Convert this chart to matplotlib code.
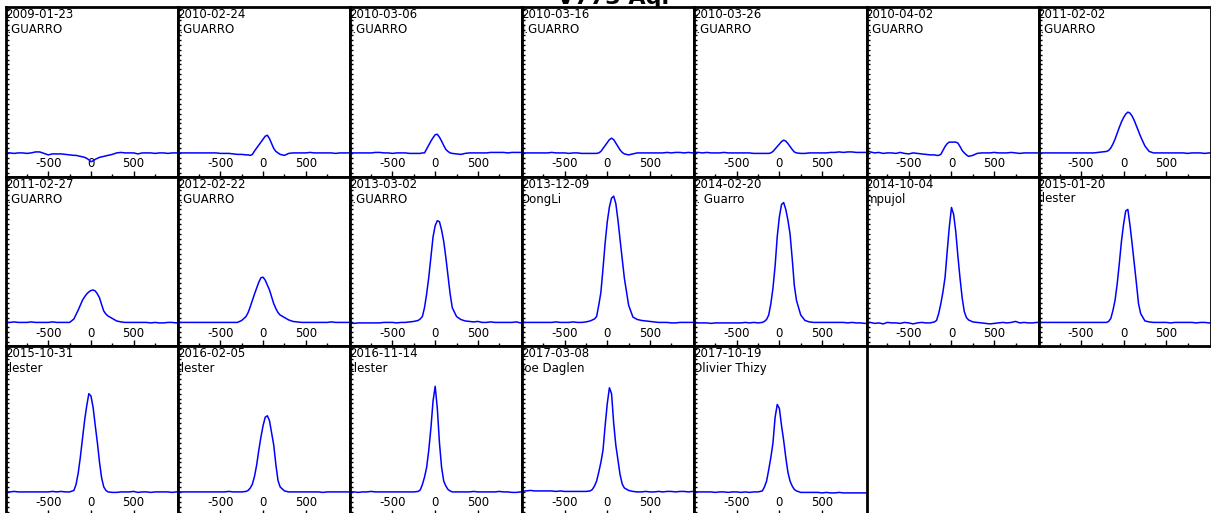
import matplotlib
matplotlib.use("Agg")
import matplotlib.pyplot as plt
from matplotlib.ticker import MultipleLocator
from matplotlib.transforms import offset_copy

title = "V773 Aql"

dates = ["2009-01-23", "2010-02-24", "2010-03-06", "2010-03-16", "2010-03-26", "2010-04-02", "2011-02-02",
         "2011-02-27", "2012-02-22", "2013-03-02", "2013-12-09", "2014-02-20", "2014-10-04", "2015-01-20",
         "2015-10-31", "2016-02-05", "2016-11-14", "2017-03-08", "2017-10-19"]

observers = ["J.GUARRO", "J.GUARRO", "J.GUARRO", "J.GUARRO", "J.GUARRO", "J.GUARRO", "J.GUARRO",
             "J.GUARRO", "J.GUARRO", "J.GUARRO", "DongLi", "J. Guarro", "mpujol", "tlester",
             "tlester", "tlester", "tlester", "Joe Daglen", "Olivier Thizy"]

# radial velocity (km/s), shared by all spectra
velocity = [-1000, -950, -900, -850, -800, -750, -700, -650, -600, -550,
            -500, -450, -400, -350, -300, -250, -200, -175, -150, -125,
            -100, -75, -50, -25, 0, 25, 50, 75, 100, 125,
            150, 175, 200, 250, 300, 350, 400, 450, 500, 550,
            600, 650, 700, 750, 800, 850, 900, 950, 1000, 1030]

# normalised flux, one list per date
flux_20090123 = [1.00, 1.00, 0.99, 1.00, 1.00, 0.99, 1.00, 1.02, 1.02, 0.99,
                 0.96, 0.98, 0.98, 0.98, 0.97, 0.96, 0.95, 0.95, 0.94, 0.93,
                 0.92, 0.91, 0.89, 0.86, 0.82, 0.84, 0.87, 0.89, 0.91, 0.92,
                 0.93, 0.94, 0.95, 0.97, 1.00, 1.01, 1.00, 1.00, 1.00, 0.98,
                 1.00, 1.00, 1.00, 0.99, 1.00, 1.00, 0.99, 1.00, 1.00, 1.00]
flux_20100224 = [1.00, 1.00, 1.00, 1.00, 1.00, 1.00, 1.00, 1.00, 1.00, 1.00,
                 0.99, 0.99, 0.99, 0.98, 0.97, 0.97, 0.96, 0.96, 0.95, 0.97,
                 1.04, 1.10, 1.16, 1.22, 1.28, 1.34, 1.36, 1.29, 1.19, 1.09,
                 1.03, 1.00, 0.97, 0.95, 0.99, 1.00, 1.00, 1.00, 1.00, 1.01,
                 1.00, 1.00, 1.00, 1.00, 1.00, 0.99, 1.00, 1.00, 1.00, 1.00]
flux_20100306 = [1.00, 1.00, 1.00, 1.00, 1.00, 1.00, 1.01, 1.01, 1.00, 1.00,
                 0.99, 1.00, 1.00, 1.00, 0.99, 0.99, 0.99, 0.99, 1.00, 1.00,
                 1.08, 1.16, 1.24, 1.31, 1.37, 1.38, 1.32, 1.24, 1.15, 1.07,
                 1.03, 1.00, 0.99, 0.98, 0.97, 0.99, 1.00, 1.00, 1.00, 1.00,
                 1.00, 1.01, 1.01, 1.01, 1.01, 1.00, 1.01, 1.01, 1.01, 1.01]
flux_20100316 = [1.00, 1.00, 1.00, 1.00, 1.00, 1.00, 1.00, 1.01, 1.00, 1.00,
                 1.00, 0.99, 1.00, 1.00, 0.99, 0.99, 0.99, 0.99, 0.99, 0.99,
                 1.00, 1.03, 1.09, 1.15, 1.21, 1.27, 1.30, 1.27, 1.20, 1.13,
                 1.06, 1.01, 0.98, 0.96, 0.98, 1.00, 1.00, 1.00, 1.00, 1.00,
                 1.00, 1.00, 1.01, 1.00, 1.01, 1.01, 1.00, 1.01, 1.00, 1.00]
flux_20100326 = [1.01, 1.01, 1.00, 1.01, 1.00, 1.00, 1.00, 1.01, 1.00, 1.00,
                 1.00, 1.00, 1.00, 1.00, 0.99, 0.99, 0.99, 0.99, 0.99, 0.99,
                 1.00, 1.03, 1.08, 1.13, 1.18, 1.23, 1.26, 1.24, 1.19, 1.13,
                 1.07, 1.02, 1.00, 0.99, 0.99, 1.00, 1.00, 1.00, 1.00, 1.00,
                 1.01, 1.01, 1.02, 1.01, 1.02, 1.02, 1.01, 1.01, 1.01, 1.01]
flux_20100402 = [1.06, 1.02, 1.00, 1.01, 0.99, 1.00, 1.00, 0.99, 1.01, 0.99,
                 0.98, 1.00, 0.99, 0.98, 0.97, 0.96, 0.96, 0.95, 0.95, 0.97,
                 1.05, 1.13, 1.19, 1.22, 1.22, 1.22, 1.22, 1.20, 1.13, 1.05,
                 1.00, 0.96, 0.93, 0.95, 0.99, 1.00, 1.00, 1.00, 1.01, 1.00,
                 1.00, 1.00, 1.01, 1.00, 0.99, 1.00, 1.00, 1.00, 1.00, 1.00]
flux_20110202 = [1.00, 1.00, 1.00, 1.00, 1.00, 1.00, 1.00, 1.00, 1.00, 1.00,
                 1.00, 1.00, 1.00, 1.00, 1.01, 1.02, 1.03, 1.05, 1.10, 1.18,
                 1.28, 1.40, 1.52, 1.63, 1.72, 1.79, 1.83, 1.81, 1.75, 1.66,
                 1.55, 1.44, 1.33, 1.14, 1.03, 1.00, 1.00, 1.00, 1.00, 1.00,
                 1.00, 1.00, 1.00, 0.99, 1.00, 1.00, 1.00, 0.99, 1.00, 1.00]
flux_20110227 = [1.00, 1.00, 1.01, 1.00, 1.00, 1.00, 1.01, 1.00, 1.00, 1.00,
                 1.00, 1.01, 1.00, 1.00, 1.00, 1.00, 1.07, 1.16, 1.25, 1.35,
                 1.45, 1.52, 1.58, 1.62, 1.65, 1.66, 1.64, 1.58, 1.50, 1.36,
                 1.23, 1.17, 1.13, 1.08, 1.03, 1.01, 1.00, 1.00, 1.00, 1.00,
                 1.00, 1.00, 0.99, 1.00, 0.99, 0.99, 1.00, 1.00, 0.99, 1.00]
flux_20120222 = [1.00, 1.00, 1.00, 1.00, 1.00, 1.00, 1.00, 1.00, 1.00, 1.00,
                 1.00, 1.00, 1.00, 1.00, 1.00, 1.04, 1.12, 1.20, 1.32, 1.45,
                 1.58, 1.70, 1.82, 1.91, 1.92, 1.86, 1.76, 1.66, 1.52, 1.38,
                 1.28, 1.20, 1.15, 1.10, 1.05, 1.02, 1.01, 1.00, 1.00, 1.00,
                 1.00, 1.00, 1.00, 1.00, 1.01, 1.00, 1.00, 1.00, 1.00, 1.00]
flux_20130302 = [0.99, 0.98, 0.99, 0.99, 0.99, 0.99, 0.99, 0.99, 1.00, 1.00,
                 1.00, 0.99, 1.00, 1.00, 1.01, 1.02, 1.04, 1.07, 1.12, 1.30,
                 1.58, 1.92, 2.33, 2.74, 2.97, 3.07, 3.05, 2.88, 2.65, 2.32,
                 1.95, 1.58, 1.30, 1.12, 1.06, 1.03, 1.02, 1.01, 1.02, 1.00,
                 1.00, 1.01, 1.00, 1.00, 1.00, 1.00, 1.00, 1.01, 0.99, 0.99]
flux_20131209 = [1.00, 1.00, 1.00, 1.00, 1.00, 1.00, 1.00, 1.00, 1.01, 1.00,
                 1.00, 1.00, 1.01, 1.00, 1.00, 1.01, 1.03, 1.05, 1.07, 1.12,
                 1.35, 1.61, 2.10, 2.62, 3.05, 3.35, 3.53, 3.57, 3.42, 3.08,
                 2.68, 2.29, 1.90, 1.35, 1.11, 1.06, 1.04, 1.03, 1.02, 1.01,
                 1.00, 1.00, 1.00, 0.99, 0.99, 1.00, 1.00, 1.00, 1.00, 1.00]
flux_20140220 = [0.99, 0.99, 0.99, 0.99, 0.98, 0.99, 0.99, 0.99, 0.99, 0.99,
                 0.99, 0.99, 1.00, 0.99, 1.00, 0.99, 1.00, 1.02, 1.06, 1.15,
                 1.38, 1.70, 2.15, 2.75, 3.15, 3.40, 3.44, 3.30, 3.08, 2.80,
                 2.30, 1.75, 1.45, 1.15, 1.04, 1.01, 1.00, 1.00, 1.00, 1.00,
                 1.00, 1.00, 1.00, 1.00, 0.99, 1.00, 0.99, 0.99, 0.98, 0.98]
flux_20141004 = [0.99, 1.00, 0.98, 0.99, 0.97, 1.00, 0.99, 0.99, 0.98, 1.00,
                 0.99, 0.97, 0.99, 1.00, 0.99, 0.99, 1.01, 1.04, 1.18, 1.38,
                 1.62, 1.92, 2.45, 2.95, 3.34, 3.20, 2.85, 2.35, 1.90, 1.50,
                 1.22, 1.10, 1.05, 1.01, 1.00, 0.99, 0.98, 0.97, 0.98, 0.99,
                 1.00, 0.99, 1.00, 1.02, 0.99, 1.00, 0.99, 0.99, 1.00, 1.00]
flux_20150120 = [1.00, 1.00, 1.00, 1.00, 1.00, 1.00, 1.00, 1.00, 1.00, 1.00,
                 1.00, 1.00, 1.00, 1.00, 1.00, 1.00, 1.00, 1.02, 1.08, 1.24,
                 1.45, 1.78, 2.20, 2.65, 3.00, 3.27, 3.30, 2.98, 2.60, 2.20,
                 1.80, 1.38, 1.18, 1.03, 1.01, 1.00, 1.00, 1.00, 1.00, 0.99,
                 1.00, 1.00, 1.00, 1.00, 1.00, 0.99, 1.00, 1.00, 0.99, 0.99]
flux_20151031 = [1.00, 1.00, 1.01, 1.00, 1.00, 1.00, 1.00, 1.00, 1.00, 1.00,
                 1.00, 1.01, 1.00, 1.01, 1.00, 1.00, 1.03, 1.15, 1.38, 1.70,
                 2.08, 2.45, 2.75, 3.00, 2.95, 2.72, 2.35, 2.00, 1.60, 1.28,
                 1.10, 1.03, 1.00, 0.99, 0.99, 1.00, 1.00, 1.00, 1.01, 0.99,
                 1.00, 1.00, 0.99, 1.00, 1.00, 1.00, 1.00, 0.99, 1.00, 1.00]
flux_20160205 = [1.00, 1.00, 1.00, 1.00, 1.00, 1.00, 1.00, 1.00, 1.00, 1.00,
                 1.00, 1.00, 1.01, 1.00, 1.00, 1.00, 1.01, 1.03, 1.08, 1.16,
                 1.32, 1.55, 1.85, 2.12, 2.35, 2.52, 2.55, 2.45, 2.20, 1.95,
                 1.55, 1.23, 1.10, 1.02, 1.00, 1.00, 1.00, 1.00, 1.00, 1.00,
                 1.00, 1.00, 0.99, 1.00, 1.00, 1.00, 1.00, 1.00, 1.00, 1.00]
flux_20161114 = [1.00, 1.00, 0.99, 1.00, 1.00, 1.01, 1.00, 1.00, 1.00, 1.00,
                 1.00, 1.00, 1.00, 1.00, 1.00, 1.00, 1.01, 1.04, 1.15, 1.30,
                 1.50, 1.85, 2.30, 2.85, 3.15, 2.70, 2.00, 1.50, 1.22, 1.12,
                 1.05, 1.02, 1.00, 1.00, 1.00, 1.00, 1.00, 1.01, 1.00, 1.00,
                 1.00, 1.00, 1.00, 1.01, 1.00, 1.00, 0.99, 0.99, 1.00, 0.99]
flux_20170308 = [1.02, 1.02, 1.03, 1.02, 1.02, 1.02, 1.02, 1.02, 1.01, 1.02,
                 1.01, 1.01, 1.01, 1.01, 1.01, 1.01, 1.02, 1.05, 1.12, 1.22,
                 1.40, 1.60, 1.85, 2.35, 2.80, 3.12, 3.00, 2.40, 1.95, 1.65,
                 1.35, 1.16, 1.08, 1.03, 1.01, 1.00, 1.00, 1.01, 1.00, 1.00,
                 1.01, 1.00, 1.01, 1.01, 1.00, 1.01, 1.01, 1.00, 1.01, 1.01]
flux_20171019 = [1.00, 1.00, 1.00, 1.00, 1.00, 0.99, 1.00, 1.00, 0.99, 1.00,
                 1.00, 0.99, 1.00, 0.99, 1.00, 1.00, 1.02, 1.10, 1.22, 1.45,
                 1.70, 2.00, 2.52, 2.78, 2.70, 2.35, 2.05, 1.70, 1.40, 1.22,
                 1.12, 1.05, 1.02, 0.99, 0.99, 0.99, 0.99, 0.99, 0.98, 0.99,
                 0.98, 0.98, 0.99, 0.98, 0.98, 0.98, 0.98, 0.98, 0.98, 0.98]

spectra = [flux_20090123, flux_20100224, flux_20100306, flux_20100316, flux_20100326, flux_20100402,
           flux_20110202, flux_20110227, flux_20120222, flux_20130302, flux_20131209, flux_20140220,
           flux_20141004, flux_20150120, flux_20151031, flux_20160205, flux_20161114, flux_20170308,
           flux_20171019]

plt.rcParams['axes.unicode_minus'] = False
plt.rcParams['font.family'] = 'DejaVu Sans'

fig_w, fig_h = 1211.0, 513.0
fig = plt.figure(figsize=(fig_w / 100, fig_h / 100), dpi=100)

n_cols = 7
panel_w, panel_h = 172.1, 169.5
x_start, y_start = 6.0, 7.0

for i, (date, observer, flux) in enumerate(zip(dates, observers, spectra)):
    row, col = divmod(i, n_cols)
    left = (x_start + col * panel_w) / fig_w
    bottom = 1 - (y_start + (row + 1) * panel_h) / fig_h
    ax = fig.add_axes([left, bottom, panel_w / fig_w, panel_h / fig_h])

    ax.plot(velocity, flux, color='#0000ff', lw=1.1)
    ax.set_xlim(-995, 1020)
    ax.set_ylim(0.52, 3.97)

    ax.set_xticks([-500, 0, 500])
    ax.set_xticks([-750, -250, 250, 750], minor=True)
    ax.set_yticks([])
    ax.yaxis.set_minor_locator(MultipleLocator(0.1))
    ax.tick_params(axis='x', which='major', direction='in', length=4, width=1, pad=-13.7, labelsize=8.5)
    ax.tick_params(axis='x', which='minor', direction='in', length=2.5, width=1)
    ax.tick_params(axis='y', which='minor', direction='in', length=2.5, width=1)
    for spine in ax.spines.values():
        spine.set_linewidth(2.0)
        spine.set_color('black')

    # date and observer in the top-left corner, first letter half under the spine
    ax.text(0, 1, date, transform=offset_copy(ax.transAxes, fig, x=-1, y=-11, units='dots'),
            ha='left', va='baseline', fontsize=8.5, clip_on=True)
    ax.text(0, 1, observer, transform=offset_copy(ax.transAxes, fig, x=-1, y=-26, units='dots'),
            ha='left', va='baseline', fontsize=8.5, clip_on=True)

# title sits mostly above the top edge, as in the original
fig.text(613 / fig_w, 1 - 4.5 / fig_h, title, ha='center', va='baseline',
         fontsize=16, fontweight='bold', zorder=-1)

fig.savefig('out.png', dpi=100)
